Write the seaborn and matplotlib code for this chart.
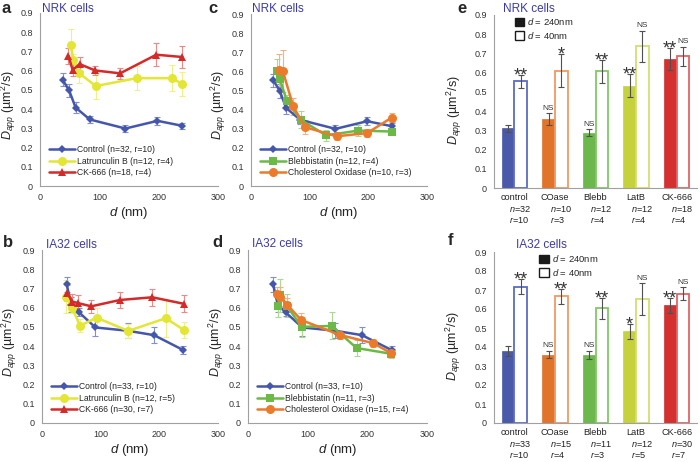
import numpy as np
import pandas as pd
import matplotlib
matplotlib.use("Agg")
import matplotlib.pyplot as plt
from matplotlib.patches import Patch
import seaborn as sns

sns.set_style("white")
plt.rcParams['font.family'] = ['Liberation Sans', 'DejaVu Sans']
plt.rcParams['mathtext.fontset'] = 'custom'
plt.rcParams['mathtext.rm'] = 'Liberation Sans'
plt.rcParams['mathtext.it'] = 'Liberation Sans:italic'

# --- line data (d in nm, Dapp in um2/s, sem) ---
nrk_ctrl_d = [38, 49, 60, 84, 144, 198, 240]
nrk_ctrl_v = [0.553, 0.498, 0.408, 0.346, 0.299, 0.339, 0.313]
nrk_ctrl_e = [0.035, 0.035, 0.03, 0.02, 0.02, 0.02, 0.015]

nrk_latb_d = [52, 56, 66, 94, 163, 222, 240]
nrk_latb_v = [0.735, 0.657, 0.587, 0.52, 0.561, 0.561, 0.531]
nrk_latb_e = [0.083, 0.03, 0.05, 0.065, 0.063, 0.068, 0.064]

nrk_ck_d = [48, 55, 67, 93, 135, 196, 240]
nrk_ck_v = [0.676, 0.604, 0.634, 0.601, 0.586, 0.683, 0.671]
nrk_ck_e = [0.04, 0.03, 0.035, 0.025, 0.03, 0.06, 0.058]

nrk_bleb_d = [44, 49, 61, 85, 128, 183, 240]
nrk_bleb_v = [0.604, 0.559, 0.447, 0.346, 0.265, 0.29, 0.285]
nrk_bleb_e = [0.06, 0.04, 0.03, 0.045, 0.03, 0.03, 0.02]

nrk_cox_d = [48, 54, 72, 92, 146, 198, 240]
nrk_cox_v = [0.607, 0.604, 0.417, 0.308, 0.26, 0.277, 0.358]
nrk_cox_e = [0.085, 0.11, 0.045, 0.035, 0.02, 0.02, 0.025]

ia_ctrl_d = [42, 50, 63, 91, 146, 191, 241]
ia_ctrl_v = [0.722, 0.615, 0.576, 0.497, 0.48, 0.457, 0.379]
ia_ctrl_e = [0.04, 0.04, 0.02, 0.045, 0.04, 0.04, 0.02]

ia_latb_d = [41, 51, 65, 93, 147, 211, 242]
ia_latb_v = [0.657, 0.6, 0.506, 0.548, 0.479, 0.545, 0.484]
ia_latb_e = [0.085, 0.03, 0.035, 0.05, 0.035, 0.095, 0.04]

ia_ck_d = [43, 51, 61, 84, 133, 188, 242]
ia_ck_v = [0.677, 0.632, 0.624, 0.607, 0.64, 0.654, 0.62]
ia_ck_e = [0.04, 0.04, 0.04, 0.035, 0.04, 0.045, 0.045]

ia_bleb_d = [50, 54, 65, 90, 140, 182, 240]
ia_bleb_v = [0.61, 0.665, 0.61, 0.5, 0.505, 0.39, 0.36]
ia_bleb_e = [0.06, 0.085, 0.06, 0.05, 0.07, 0.04, 0.02]

ia_cox_d = [49, 54, 66, 89, 154, 210, 240]
ia_cox_v = [0.67, 0.657, 0.614, 0.536, 0.458, 0.415, 0.363]
ia_cox_e = [0.04, 0.05, 0.035, 0.035, 0.02, 0.02, 0.02]

# --- bar data ---
drugs = ['control', 'COase', 'Blebb', 'LatB', 'CK-666']
nrk_far = [0.31, 0.36, 0.287, 0.532, 0.672]
nrk_far_e = [0.02, 0.03, 0.018, 0.06, 0.058]
nrk_near = [0.555, 0.61, 0.607, 0.738, 0.686]
nrk_near_e = [0.035, 0.085, 0.06, 0.08, 0.05]
nrk_far_sig = ['', 'NS', 'NS', '**', '**']
nrk_near_sig = ['**', '*', '**', 'NS', 'NS']
nrk_n = [32, 10, 12, 12, 18]
nrk_r = [10, 3, 4, 4, 4]

ia_far = [0.38, 0.36, 0.358, 0.483, 0.619]
ia_far_e = [0.025, 0.02, 0.022, 0.04, 0.04]
ia_near = [0.718, 0.666, 0.604, 0.652, 0.68]
ia_near_e = [0.04, 0.04, 0.055, 0.085, 0.035]
ia_far_sig = ['', 'NS', 'NS', '*', '**']
ia_near_sig = ['**', '**', '**', 'NS', 'NS']
ia_n = [33, 15, 11, 12, 30]
ia_r = [10, 4, 3, 5, 7]

BLUE, BLUE_E = '#4457ad', '#8090d0'
YEL, YEL_E = '#e4e636', '#eef08a'
RED, RED_E = '#d42a2a', '#ec8a8a'
GRN, GRN_E = '#6cb948', '#acd895'
ORA, ORA_E = '#eb7b2b', '#f5b27e'
bar_fill = ['#4a5aa8', '#e0742a', '#6cb84c', '#c6d23c', '#d33030']
bar_edge = ['#5b6cc4', '#f09a62', '#84c866', '#d4de72', '#e26464']
TITLE_C = '#3b3ba6'
SPINE_C = '#a0a0a0'

W, H = 700, 462
fig = plt.figure(figsize=(7, 4.62), dpi=100)


def ax_px(l, t, r, b):
    return fig.add_axes([l / W, 1 - b / H, (r - l) / W, (b - t) / H])


def style(ax):
    for s in ['top', 'right']:
        ax.spines[s].set_visible(False)
    for s in ['left', 'bottom']:
        ax.spines[s].set_color(SPINE_C)
        ax.spines[s].set_linewidth(0.8)
    ax.tick_params(length=3, width=0.7, color=SPINE_C, labelsize=6.5,
                   labelcolor='#333333', pad=2)
    ax.set_ylim(0, 0.9)
    yt = np.round(np.arange(0, 0.91, 0.1), 1)
    ax.set_yticks(yt)
    ax.set_yticklabels(['0'] + [f'{v:.1f}' for v in yt[1:]])


def line_panel(ax, series, ylab_x):
    for name, d, v, e, c, ec, mk, ms in series:
        ax.errorbar(d, v, yerr=e, fmt='none', ecolor=ec, elinewidth=0.8,
                    capsize=2.2, capthick=0.8, zorder=1)
        sns.lineplot(x=d, y=v, color=c, marker=mk, markersize=ms,
                     markeredgewidth=0, linewidth=1.8, label=name, ax=ax,
                     zorder=2)
    style(ax)
    ax.set_xlim(0, 300)
    ax.set_xticks([0, 100, 200, 300])
    ax.set_xlabel(r'$d$ (nm)', fontsize=9.5, labelpad=2)
    ax.set_ylabel(r'$D_{app}$ (µm$^2$/s)', fontsize=9)
    ax.yaxis.set_label_coords(ylab_x, 0.47)
    ax.legend(loc='lower left', bbox_to_anchor=(0.02, 0.02), frameon=False,
              fontsize=6.2, handlelength=3.0, handletextpad=0.3,
              labelspacing=0.3, borderaxespad=0.2)


def bar_panel(ax, far, far_e, near, near_e, far_sig, near_sig, n, r,
              leg_x, ylab_x):
    df = pd.DataFrame({
        'drug': drugs * 2,
        'dist': ['240'] * 5 + ['40'] * 5,
        'D': far + near,
    })
    sns.barplot(data=df, x='drug', y='D', hue='dist', hue_order=['240', '40'],
                order=drugs, width=0.63, gap=0, errorbar=None, legend=False,
                ax=ax)
    errs = [far_e, near_e]
    sigs = [far_sig, near_sig]
    for k, cont in enumerate(ax.containers[:2]):
        for i, p in enumerate(cont.patches):
            if k == 0:
                p.set_facecolor(bar_fill[i])
                p.set_edgecolor(bar_fill[i])
                p.set_linewidth(0.5)
            else:
                p.set_facecolor('white')
                p.set_edgecolor(bar_edge[i])
                p.set_linewidth(1.3)
            xc = p.get_x() + p.get_width() / 2
            yv = p.get_height()
            ax.errorbar(xc, yv, yerr=errs[k][i], fmt='none', ecolor='#505050',
                        elinewidth=0.8, capsize=2.2, capthick=0.8, zorder=3)
            s = sigs[k][i]
            if s.startswith('*'):
                ax.annotate(s, (xc, yv + errs[k][i]), xytext=(0, -4),
                            textcoords='offset points', ha='center',
                            va='baseline', fontsize=13, color='#333333')
            elif s:
                ax.annotate(s, (xc, yv + errs[k][i]), xytext=(0, 1),
                            textcoords='offset points', ha='center',
                            va='bottom', fontsize=6, color='#333333')
    style(ax)
    ax.set_xlim(-0.5, 4.5)
    ax.set_xticks(range(5))
    ax.set_xticklabels([])
    ax.tick_params(axis='x', which='major', length=0)
    ax.set_xticks(np.arange(-0.5, 4.6, 1), minor=True)
    ax.tick_params(axis='x', which='minor', length=5, width=0.7,
                   color=SPINE_C)
    ax.set_xlabel('')
    ax.set_ylabel(r'$D_{app}$ (µm$^2$/s)', fontsize=9)
    ax.yaxis.set_label_coords(ylab_x, 0.45)
    tr = ax.get_xaxis_transform()
    for i, name in enumerate(drugs):
        ax.text(i, -0.03, name, transform=tr, ha='center', va='top',
                fontsize=6.6, color='#222222')
        ax.text(i - 0.13, -0.095, rf'$n$={n[i]}', transform=tr, ha='left',
                va='top', fontsize=6.6, color='#222222')
        ax.text(i - 0.13, -0.155, rf'$r$={r[i]}', transform=tr, ha='left',
                va='top', fontsize=6.6, color='#222222')
    handles = [Patch(facecolor='#1a1a1a', edgecolor='#1a1a1a'),
               Patch(facecolor='white', edgecolor='#1a1a1a', linewidth=1.0)]
    ax.legend(handles, [r'$d$ = 240nm', r'$d$ = 40nm'], loc='upper left',
              bbox_to_anchor=(leg_x, 1.02), frameon=False, fontsize=6.8,
              handlelength=1.0, handleheight=1.0, handletextpad=0.3,
              labelspacing=0.25, borderaxespad=0.1)


ax_a = ax_px(40, 13, 218, 186)
line_panel(ax_a, [
    ('Control (n=32, r=10)', nrk_ctrl_d, nrk_ctrl_v, nrk_ctrl_e, BLUE, BLUE_E, 'D', 4),
    ('Latrunculin B (n=12, r=4)', nrk_latb_d, nrk_latb_v, nrk_latb_e, YEL, YEL_E, 'o', 6.5),
    ('CK-666 (n=18, r=4)', nrk_ck_d, nrk_ck_v, nrk_ck_e, RED, RED_E, '^', 6),
], -0.125)

ax_b = ax_px(42, 250, 218, 423)
line_panel(ax_b, [
    ('Control (n=33, r=10)', ia_ctrl_d, ia_ctrl_v, ia_ctrl_e, BLUE, BLUE_E, 'D', 4),
    ('Latrunculin B (n=12, r=5)', ia_latb_d, ia_latb_v, ia_latb_e, YEL, YEL_E, 'o', 6.5),
    ('CK-666 (n=30, r=7)', ia_ck_d, ia_ck_v, ia_ck_e, RED, RED_E, '^', 6),
], -0.13)

ax_c = ax_px(251, 14, 427, 186)
line_panel(ax_c, [
    ('Control (n=32, r=10)', nrk_ctrl_d, nrk_ctrl_v, nrk_ctrl_e, BLUE, BLUE_E, 'D', 4),
    ('Blebbistatin (n=12, r=4)', nrk_bleb_d, nrk_bleb_v, nrk_bleb_e, GRN, GRN_E, 's', 5.5),
    ('Cholesterol Oxidase (n=10, r=3)', nrk_cox_d, nrk_cox_v, nrk_cox_e, ORA, ORA_E, 'o', 6.5),
], -0.13)

ax_d = ax_px(248, 250, 427, 423)
line_panel(ax_d, [
    ('Control (n=33, r=10)', ia_ctrl_d, ia_ctrl_v, ia_ctrl_e, BLUE, BLUE_E, 'D', 4),
    ('Blebbistatin (n=11, r=3)', ia_bleb_d, ia_bleb_v, ia_bleb_e, GRN, GRN_E, 's', 5.5),
    ('Cholesterol Oxidase (n=15, r=4)', ia_cox_d, ia_cox_v, ia_cox_e, ORA, ORA_E, 'o', 6.5),
], -0.125)

ax_e = ax_px(494, 15, 697, 188)
bar_panel(ax_e, nrk_far, nrk_far_e, nrk_near, nrk_near_e, nrk_far_sig,
          nrk_near_sig, nrk_n, nrk_r, 0.08, -0.15)

ax_f = ax_px(494, 252, 697, 423)
bar_panel(ax_f, ia_far, ia_far_e, ia_near, ia_near_e, ia_far_sig,
          ia_near_sig, ia_n, ia_r, 0.2, -0.155)

# panel letters and titles
for letter, x, y in [('a', 2, 13), ('b', 3, 247), ('c', 208, 13),
                     ('d', 212, 247), ('e', 457, 13), ('f', 448, 245)]:
    fig.text(x / W, 1 - y / H, letter, fontsize=12, fontweight='bold',
             va='baseline', ha='left')
for title, x, y in [('NRK cells', 42, 12), ('IA32 cells', 46, 248),
                    ('NRK cells', 252, 12), ('IA32 cells', 252, 247),
                    ('NRK cells', 503, 12), ('IA32 cells', 516, 248)]:
    fig.text(x / W, 1 - y / H, title, fontsize=8.5, color=TITLE_C,
             va='baseline', ha='left')

fig.savefig('out.png', dpi=100)
